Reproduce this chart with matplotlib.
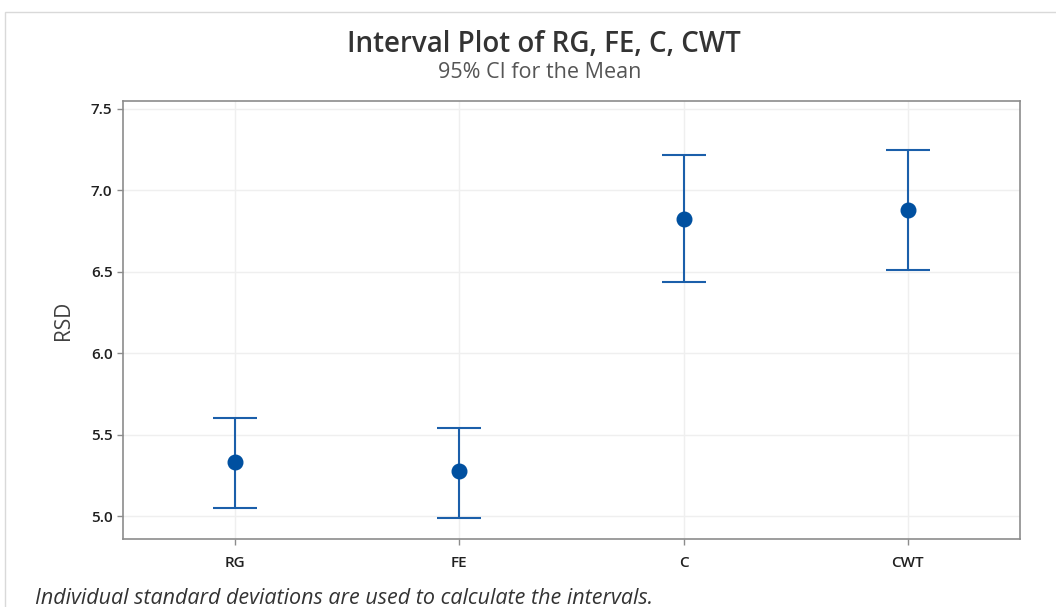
import numpy as np
import matplotlib.pyplot as plt
from matplotlib.patches import Rectangle

plt.rcParams['font.family'] = ['Open Sans', 'DejaVu Sans']

# Data
groups = ['RG', 'FE', 'C', 'CWT']
means = [5.332, 5.276, 6.824, 6.880]
lower = [5.049, 4.988, 6.437, 6.511]
upper = [5.602, 5.541, 7.217, 7.248]
yticks = [5.0, 5.5, 6.0, 6.5, 7.0, 7.5]

x = np.arange(1, len(groups) + 1)
means = np.array(means)
err = np.vstack([means - np.array(lower), np.array(upper) - means])

blue = '#1b5faa'
dot = '#0050a0'
frame = '#8c8c8c'

fig = plt.figure(figsize=(10.56, 6.07), dpi=100)
ax = fig.add_axes([123/1056, 1 - 539/607, (1020 - 123)/1056, (539 - 101)/607])

ax.errorbar(x, means, yerr=err, fmt='o', color=blue, ecolor=blue,
            markerfacecolor=dot, markeredgecolor=dot, markersize=10.5,
            elinewidth=1.5, capsize=16, capthick=1.5, zorder=3)

ax.set_xlim(0.5, 4.5)
ax.set_ylim(4.859, 7.549)
ax.set_xticks(x)
ax.set_xticklabels(groups, fontsize=11, fontweight='semibold')
ax.set_yticks(yticks)
ax.set_yticklabels([f'{v:.1f}' for v in yticks], fontsize=11, fontweight='semibold')
ax.set_ylabel('RSD', fontsize=15, color='#404040', labelpad=12)
ax.grid(True, color='#efefef', linewidth=1, zorder=0)
ax.set_axisbelow(True)
for s in ax.spines.values():
    s.set_color(frame)
    s.set_linewidth(1.2)
ax.tick_params(axis='both', color=frame, length=4, width=1, colors='#202020')
ax.tick_params(axis='x', pad=8)

fig.text(544/1056, 1 - 45/607, 'Interval Plot of RG, FE, C, CWT', ha='center', va='center',
         fontsize=20, fontweight='semibold', color='#333333')
fig.text(540/1056, 1 - 73/607, '95% CI for the Mean', ha='center', va='center',
         fontsize=15.5, color='#555555')
fig.text(35/1056, 1 - 598/607, 'Individual standard deviations are used to calculate the intervals.',
         ha='left', va='center', fontsize=15.5, style='italic', color='#333333')

# outer panel border
fig.patches.append(Rectangle((5/1056, -0.01), 1.1, 1 - 12/607 + 0.01, transform=fig.transFigure,
                             fill=False, edgecolor='#d9d9d9', linewidth=1))

fig.savefig('out.png', dpi=100)
